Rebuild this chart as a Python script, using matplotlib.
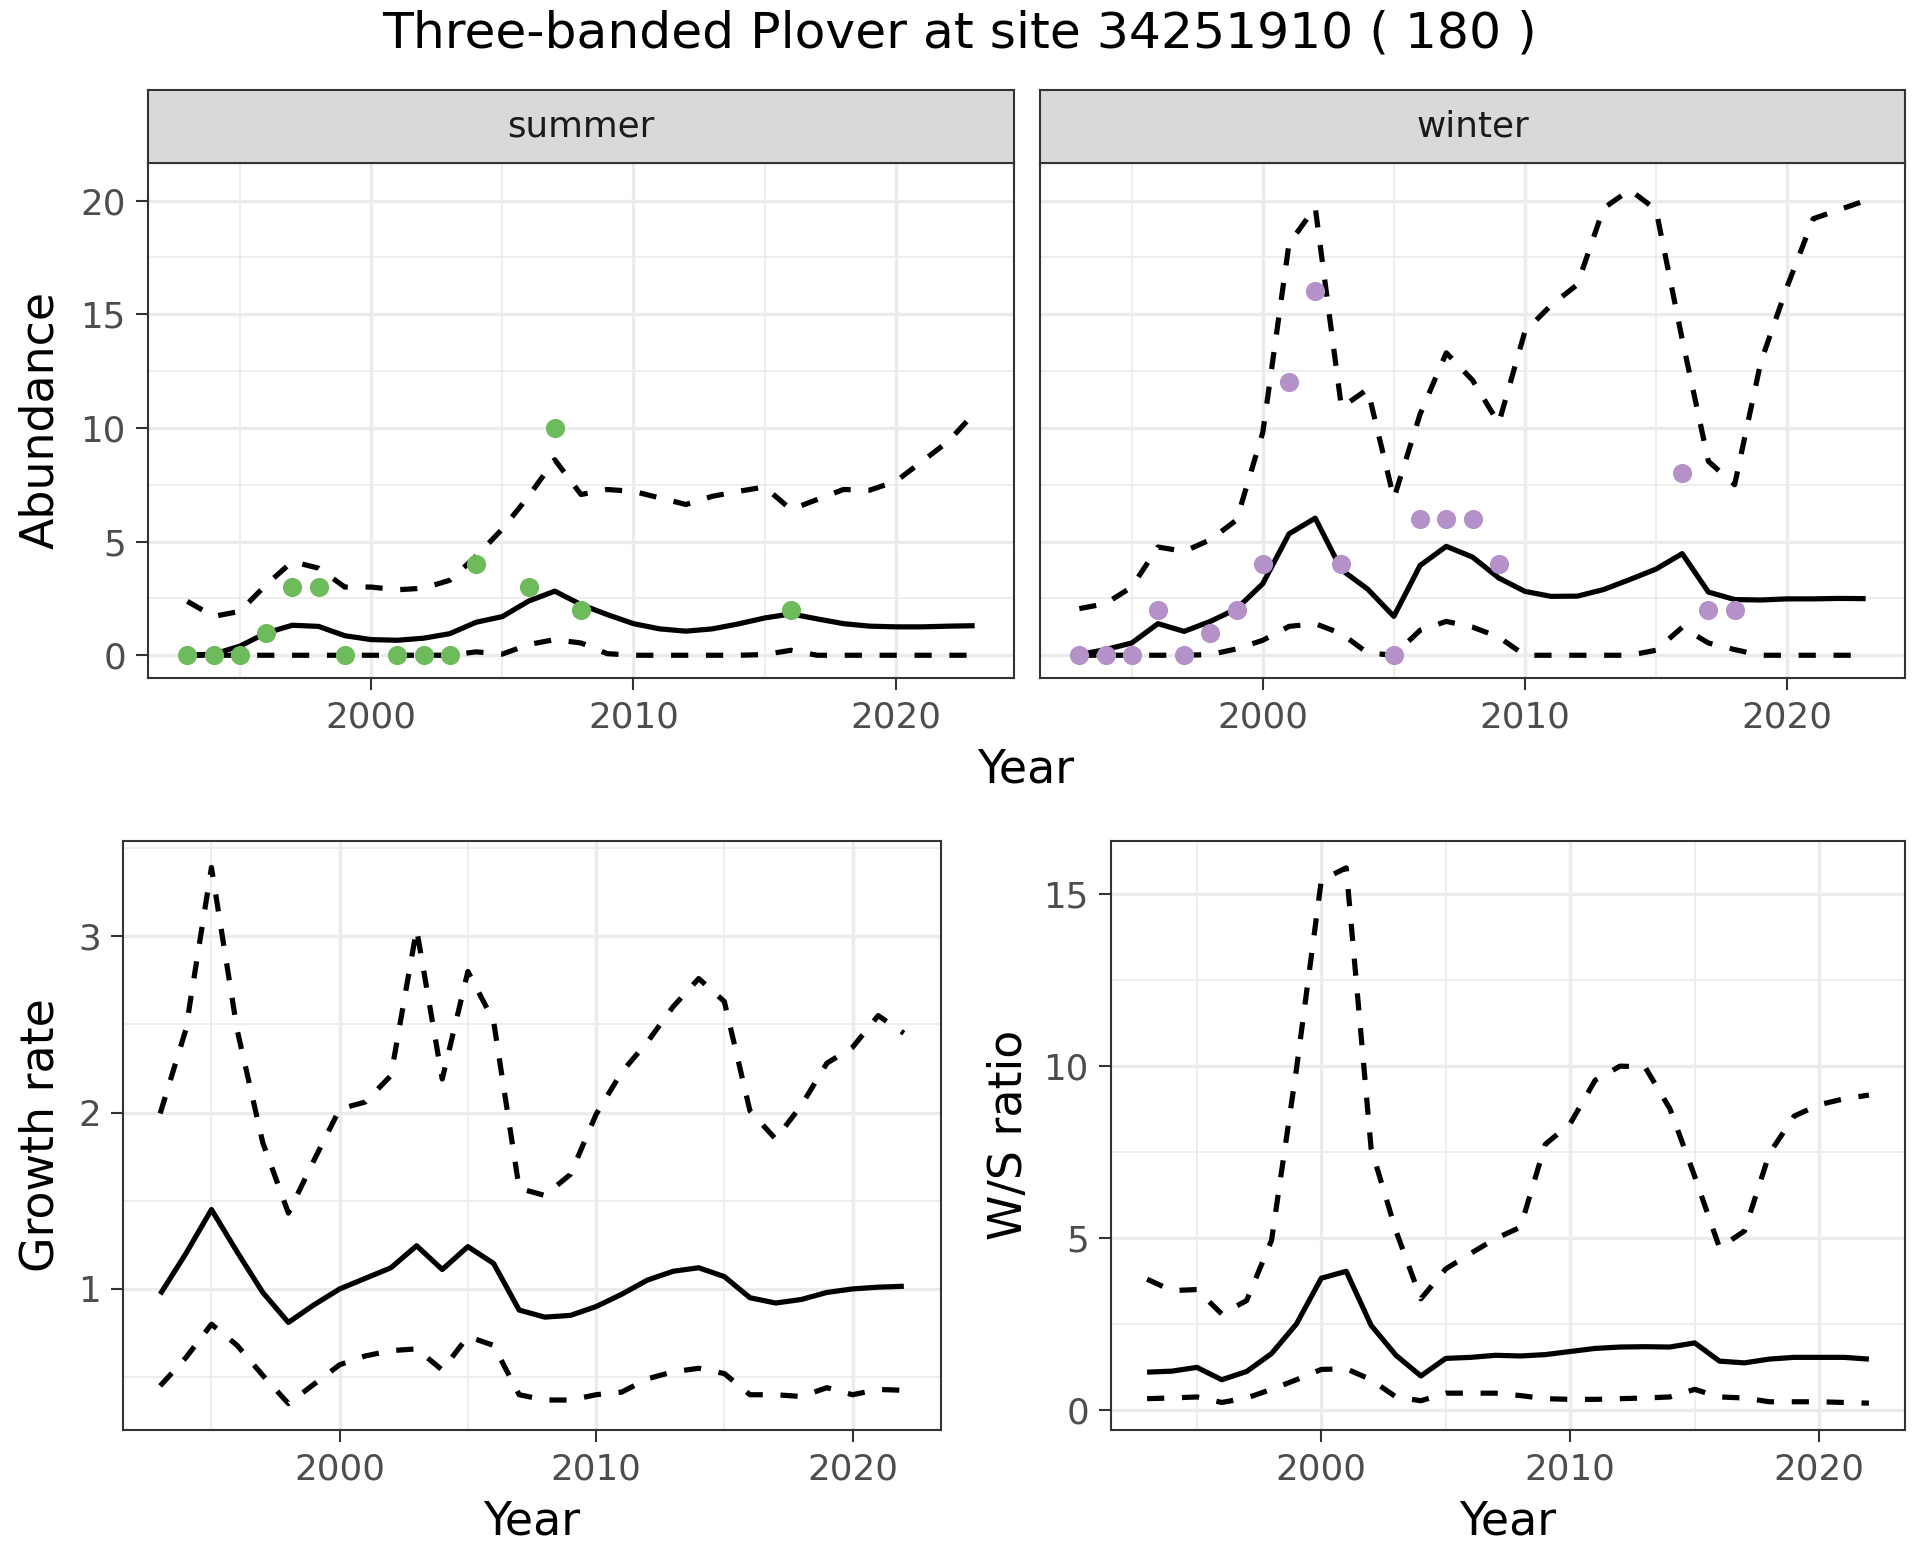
import numpy as np
import matplotlib
matplotlib.use("Agg")
import matplotlib.pyplot as plt
from matplotlib.ticker import FixedLocator

plt.rcParams.update({'font.family': 'DejaVu Sans'})

# ---- data ----
years_top = [1993, 1994, 1995, 1996, 1997, 1998, 1999, 2000, 2001, 2002, 2003,
             2004, 2005, 2006, 2007, 2008, 2009, 2010, 2011, 2012, 2013, 2014,
             2015, 2016, 2017, 2018, 2019, 2020, 2021, 2022, 2023]

summer_mean = [0.0, 0.05, 0.4, 0.98, 1.32, 1.27, 0.86, 0.69, 0.66, 0.75, 0.95,
               1.45, 1.7, 2.38, 2.82, 2.23, 1.79, 1.39, 1.16, 1.06, 1.16, 1.38,
               1.64, 1.82, 1.6, 1.39, 1.28, 1.25, 1.25, 1.28, 1.3]
summer_upper = [2.37, 1.71, 1.93, 3.1, 4.12, 3.83, 3.0, 3.0, 2.88, 2.95, 3.3,
                4.35, 5.55, 6.99, 8.6, 7.07, 7.29, 7.21, 6.92, 6.63, 6.99, 7.21,
                7.4, 6.41, 6.85, 7.29, 7.26, 7.65, 8.53, 9.41, 10.66]
summer_lower = [0, 0, 0, 0, 0, 0, 0, 0, 0, 0, 0,
                0.15, 0.05, 0.47, 0.69, 0.54, 0.07, 0, 0, 0, 0, 0,
                0.03, 0.22, 0, 0, 0, 0, 0, 0, 0]
summer_obs_years = [1993, 1994, 1995, 1996, 1997, 1998, 1999, 2001, 2002, 2003,
                    2004, 2006, 2007, 2008, 2016]
summer_obs = [0, 0, 0, 1, 3, 3, 0, 0, 0, 0, 4, 3, 10, 2, 2]

winter_mean = [0.03, 0.25, 0.54, 1.39, 1.05, 1.49, 2.04, 3.15, 5.34, 6.03, 3.76,
               2.91, 1.71, 3.95, 4.79, 4.32, 3.4, 2.81, 2.59, 2.6, 2.89, 3.33,
               3.79, 4.47, 2.78, 2.45, 2.43, 2.48, 2.48, 2.5, 2.49]
winter_upper = [2.05, 2.27, 3.0, 4.76, 4.57, 5.08, 5.95, 9.8, 18.1, 19.7, 10.9,
                11.7, 6.9, 10.6, 13.3, 12.1, 10.2, 14.24, 15.4, 16.3, 19.66, 20.47,
                19.6, 13.9, 8.53, 7.5, 12.9, 16.2, 19.2, 19.6, 20.0]
winter_lower = [0, 0, 0, 0, 0, 0.03, 0.28, 0.66, 1.27, 1.39, 0.95,
                0.1, 0, 1.1, 1.49, 1.24, 0.8, 0, 0, 0, 0, 0,
                0.22, 1.23, 0.54, 0.25, 0, 0, 0, 0, 0]
winter_obs_years = [1993, 1994, 1995, 1996, 1997, 1998, 1999, 2000, 2001, 2002,
                    2003, 2005, 2006, 2007, 2008, 2009, 2016, 2017, 2018]
winter_obs = [0, 0, 0, 2, 0, 1, 2, 4, 12, 16, 4, 0, 6, 6, 6, 4, 8, 2, 2]

years_bot = [1993, 1994, 1995, 1996, 1997, 1998, 1999, 2000, 2001, 2002,
             2003, 2004, 2005, 2006, 2007, 2008, 2009, 2010, 2011, 2012,
             2013, 2014, 2015, 2016, 2017, 2018, 2019, 2020, 2021, 2022]

growth_mean = [0.97, 1.2, 1.45, 1.21, 0.98, 0.81, 0.91, 1.0, 1.06, 1.12,
               1.245, 1.11, 1.24, 1.145, 0.88, 0.84, 0.85, 0.9, 0.97, 1.05,
               1.1, 1.12, 1.07, 0.95, 0.92, 0.94, 0.98, 1.0, 1.01, 1.015]
growth_upper = [1.995, 2.47, 3.39, 2.47, 1.83, 1.43, 1.73, 2.02, 2.06, 2.21,
                3.04, 2.19, 2.8, 2.52, 1.57, 1.53, 1.65, 1.99, 2.23, 2.4,
                2.6, 2.76, 2.63, 2.01, 1.85, 2.04, 2.28, 2.37, 2.55, 2.45]
growth_lower = [0.45, 0.61, 0.8, 0.68, 0.51, 0.35, 0.46, 0.57, 0.62, 0.65,
                0.66, 0.54, 0.73, 0.68, 0.4, 0.37, 0.37, 0.4, 0.415, 0.49,
                0.53, 0.55, 0.52, 0.4, 0.4, 0.39, 0.44, 0.4, 0.43, 0.425]

ws_mean = [1.1, 1.13, 1.24, 0.88, 1.12, 1.64, 2.5, 3.83, 4.03, 2.46,
           1.59, 0.99, 1.5, 1.53, 1.59, 1.57, 1.61, 1.7, 1.79, 1.83,
           1.84, 1.83, 1.95, 1.42, 1.37, 1.48, 1.53, 1.53, 1.53, 1.48]
ws_upper = [3.8, 3.47, 3.5, 2.79, 3.18, 4.93, 9.9, 15.39, 15.75, 7.6,
            5.2, 3.23, 4.1, 4.55, 4.98, 5.31, 7.72, 8.32, 9.58, 9.99,
            9.97, 8.76, 6.79, 4.71, 5.2, 7.45, 8.54, 8.87, 9.04, 9.15]
ws_lower = [0.33, 0.35, 0.38, 0.22, 0.35, 0.6, 0.88, 1.18, 1.2, 0.88,
            0.38, 0.27, 0.49, 0.49, 0.49, 0.42, 0.33, 0.31, 0.31, 0.33,
            0.35, 0.38, 0.6, 0.38, 0.35, 0.24, 0.24, 0.24, 0.22, 0.2]

green = '#6EBB5C'
purple = '#B491C8'

# ---- layout helpers (pixel boxes on a 1920x1560 canvas) ----
W, H = 1920, 1560


def box(l, t, r, b):
    return [l / W, 1 - b / H, (r - l) / W, (b - t) / H]


def style(ax, xlim, ylim, ymajor, yminor, left_labels=True):
    ax.set_xlim(xlim)
    ax.set_ylim(ylim)
    ax.xaxis.set_major_locator(FixedLocator([2000, 2010, 2020]))
    ax.xaxis.set_minor_locator(FixedLocator([1995, 2005, 2015]))
    ax.yaxis.set_major_locator(FixedLocator(ymajor))
    ax.yaxis.set_minor_locator(FixedLocator(yminor))
    ax.grid(which='major', color='#EBEBEB', lw=0.8)
    ax.grid(which='minor', color='#EBEBEB', lw=0.4)
    ax.set_axisbelow(True)
    ax.tick_params(which='major', length=2.8, width=0.5, color='#333333',
                   labelcolor='#4D4D4D', labelsize=8.6, pad=2.5)
    ax.tick_params(which='minor', length=0)
    if not left_labels:
        ax.tick_params(axis='y', which='both', left=False, labelleft=False)
    for s in ax.spines.values():
        s.set_color('#333333')
        s.set_linewidth(0.5)


def band(ax, x, mid, lo, hi):
    kw = dict(color='black', lw=1.25)
    ax.plot(x, hi, linestyle=(0, (3.3, 3.4)), dash_capstyle='butt', **kw)
    ax.plot(x, lo, linestyle=(0, (3.3, 3.4)), dash_capstyle='butt', **kw)
    ax.plot(x, mid, solid_capstyle='butt', **kw)


def strip(rect, label):
    sa = fig.add_axes(rect)
    sa.set_facecolor('#D9D9D9')
    sa.set_xticks([])
    sa.set_yticks([])
    for s in sa.spines.values():
        s.set_color('#333333')
        s.set_linewidth(0.5)
    sa.text(0.5, 0.5, label, ha='center', va='center', fontsize=8.6,
            color='#1A1A1A', transform=sa.transAxes)


fig = plt.figure(figsize=(6.4, 5.2), dpi=300)

top_ylim = (-1.0, 21.65)
top_major = [0, 5, 10, 15, 20]
top_minor = [2.5, 7.5, 12.5, 17.5]

ax1 = fig.add_axes(box(148, 163, 1014, 678))
style(ax1, (1991.5, 2024.5), top_ylim, top_major, top_minor)
band(ax1, years_top, summer_mean, summer_lower, summer_upper)
ax1.plot(summer_obs_years, summer_obs, 'o', ms=4.6, mec='none', color=green, zorder=3)
strip(box(148, 90, 1014, 163), 'summer')

ax2 = fig.add_axes(box(1040, 163, 1905, 678))
style(ax2, (1991.5, 2024.5), top_ylim, top_major, top_minor, left_labels=False)
band(ax2, years_top, winter_mean, winter_lower, winter_upper)
ax2.plot(winter_obs_years, winter_obs, 'o', ms=4.6, mec='none', color=purple, zorder=3)
strip(box(1040, 90, 1905, 163), 'winter')

ax3 = fig.add_axes(box(123, 841, 941, 1430))
style(ax3, (1991.55, 2023.45), (0.2, 3.54), [1, 2, 3], [0.5, 1.5, 2.5, 3.5])
band(ax3, years_bot, growth_mean, growth_lower, growth_upper)

ax4 = fig.add_axes(box(1111, 841, 1905, 1430))
style(ax4, (1991.55, 2023.45), (-0.58, 16.53), [0, 5, 10, 15], [2.5, 7.5, 12.5])
band(ax4, years_bot, ws_mean, ws_lower, ws_upper)

# titles and axis labels
fig.text(0.5, 1 - 34 / H, 'Three-banded Plover at site 34251910 ( 180 )',
         ha='center', va='center', fontsize=12.1)
fig.text(41 / W, 1 - 420 / H, 'Abundance', rotation=90, ha='center', va='center', fontsize=11)
fig.text(1026 / W, 1 - 770 / H, 'Year', ha='center', va='center', fontsize=11)
fig.text(41 / W, 1 - 1135 / H, 'Growth rate', rotation=90, ha='center', va='center', fontsize=11)
fig.text(1009 / W, 1 - 1135 / H, 'W/S ratio', rotation=90, ha='center', va='center', fontsize=11)
fig.text(532 / W, 1 - 1522 / H, 'Year', ha='center', va='center', fontsize=11)
fig.text(1508 / W, 1 - 1522 / H, 'Year', ha='center', va='center', fontsize=11)

fig.savefig('out.png', dpi=300)
